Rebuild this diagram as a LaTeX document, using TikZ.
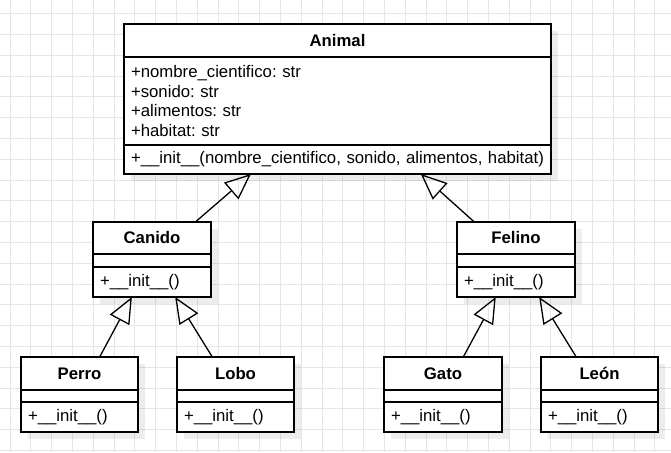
\documentclass[tikz,border=0pt]{standalone}
\usepackage{fontspec}
\setmainfont{Liberation Sans}
\usetikzlibrary{arrows.meta,fit,backgrounds}
\frenchspacing

\tikzset{
  gridline/.style={gray!20, line width=1pt},
  umlname/.style={draw=black, fill=white, line width=1.3pt, inner sep=0pt, outer sep=0pt,
    anchor=north west, align=center, font=\fontsize{16.75}{19.6}\selectfont\bfseries},
  umlpart/.style={draw=black, fill=white, line width=1.3pt, inner xsep=7pt, inner ysep=0pt,
    outer sep=0pt, anchor=north west, align=left, font=\fontsize{16.75}{19.6}\selectfont},
  umlclass/.style={inner sep=0pt, outer sep=0pt},
  umlshadow/.style={fill=black, fill opacity=0.07},
  inherit/.style={line width=1.3pt, -{Triangle[open, length=26pt, width=22pt]}}
}

\begin{document}
\begin{tikzpicture}[x=1pt, y=-1pt]
  \useasboundingbox (0,0) rectangle (671,452);
  % grid paper
  \begin{scope}[on background layer]
    \fill[white] (0,0) rectangle (671,452);
    \foreach \i in {0,...,32} \draw[gridline] ({10+20.8*\i},0) -- ({10+20.8*\i},452);
    \foreach \j in {0,...,21} \draw[gridline] (0,{13.7+20.8*\j}) -- (671,{13.7+20.8*\j});
  \end{scope}

  % base class
  \node[umlname, minimum width=427pt, minimum height=33pt] (animalname) at (124,24) {Animal};
  \node[umlpart, text width=413pt, minimum height=88pt] (animalattr) at (animalname.south west)
    {+nombre\_cientifico: str\\+sonido: str\\+alimentos: str\\+habitat: str};
  \node[umlpart, text width=413pt, minimum height=29pt] (animalop) at (animalattr.south west)
    {+\_\_init\_\_(nombre\_cientifico, sonido, alimentos, habitat)};
  \node[umlclass, fit=(animalname)(animalop)] (animal) {};

  % middle level
  \node[umlname, minimum width=118pt, minimum height=32pt] (canidoname) at (93,222) {Canido};
  \node[umlpart, text width=104pt, minimum height=13pt] (canidoattr) at (canidoname.south west) {};
  \node[umlpart, text width=104pt, minimum height=30pt] (canidoop) at (canidoattr.south west) {+\_\_init\_\_()};
  \node[umlclass, fit=(canidoname)(canidoop)] (canido) {};

  \node[umlname, minimum width=118pt, minimum height=32pt] (felinoname) at (457,222) {Felino};
  \node[umlpart, text width=104pt, minimum height=13pt] (felinoattr) at (felinoname.south west) {};
  \node[umlpart, text width=104pt, minimum height=30pt] (felinoop) at (felinoattr.south west) {+\_\_init\_\_()};
  \node[umlclass, fit=(felinoname)(felinoop)] (felino) {};

  % leaves
  \node[umlname, minimum width=117pt, minimum height=33pt] (perroname) at (21,357) {Perro};
  \node[umlpart, text width=103pt, minimum height=12pt] (perroattr) at (perroname.south west) {};
  \node[umlpart, text width=103pt, minimum height=30pt] (perroop) at (perroattr.south west) {+\_\_init\_\_()};
  \node[umlclass, fit=(perroname)(perroop)] (perro) {};

  \node[umlname, minimum width=117pt, minimum height=33pt] (loboname) at (177,357) {Lobo};
  \node[umlpart, text width=103pt, minimum height=12pt] (loboattr) at (loboname.south west) {};
  \node[umlpart, text width=103pt, minimum height=30pt] (loboop) at (loboattr.south west) {+\_\_init\_\_()};
  \node[umlclass, fit=(loboname)(loboop)] (lobo) {};

  \node[umlname, minimum width=118pt, minimum height=33pt] (gatoname) at (384,357) {Gato};
  \node[umlpart, text width=104pt, minimum height=12pt] (gatoattr) at (gatoname.south west) {};
  \node[umlpart, text width=104pt, minimum height=30pt] (gatoop) at (gatoattr.south west) {+\_\_init\_\_()};
  \node[umlclass, fit=(gatoname)(gatoop)] (gato) {};

  \node[umlname, minimum width=117pt, minimum height=33pt] (leonname) at (541,357) {León};
  \node[umlpart, text width=103pt, minimum height=12pt] (leonattr) at (leonname.south west) {};
  \node[umlpart, text width=103pt, minimum height=30pt] (leonop) at (leonattr.south west) {+\_\_init\_\_()};
  \node[umlclass, fit=(leonname)(leonop)] (leon) {};

  % shadows
  \begin{scope}[on background layer]
    \foreach \c in {animal,canido,felino,perro,lobo,gato,leon}
      \fill[umlshadow] ([shift={(7,7)}]\c.north west) rectangle ([shift={(7,7)}]\c.south east);
  \end{scope}

  % generalisation
  \draw[inherit] (canido) -- (animal);
  \draw[inherit] (felino) -- (animal);
  \draw[inherit] (perro) -- (canido);
  \draw[inherit] (lobo) -- (canido);
  \draw[inherit] (gato) -- (felino);
  \draw[inherit] (leon) -- (felino);
\end{tikzpicture}
\end{document}
